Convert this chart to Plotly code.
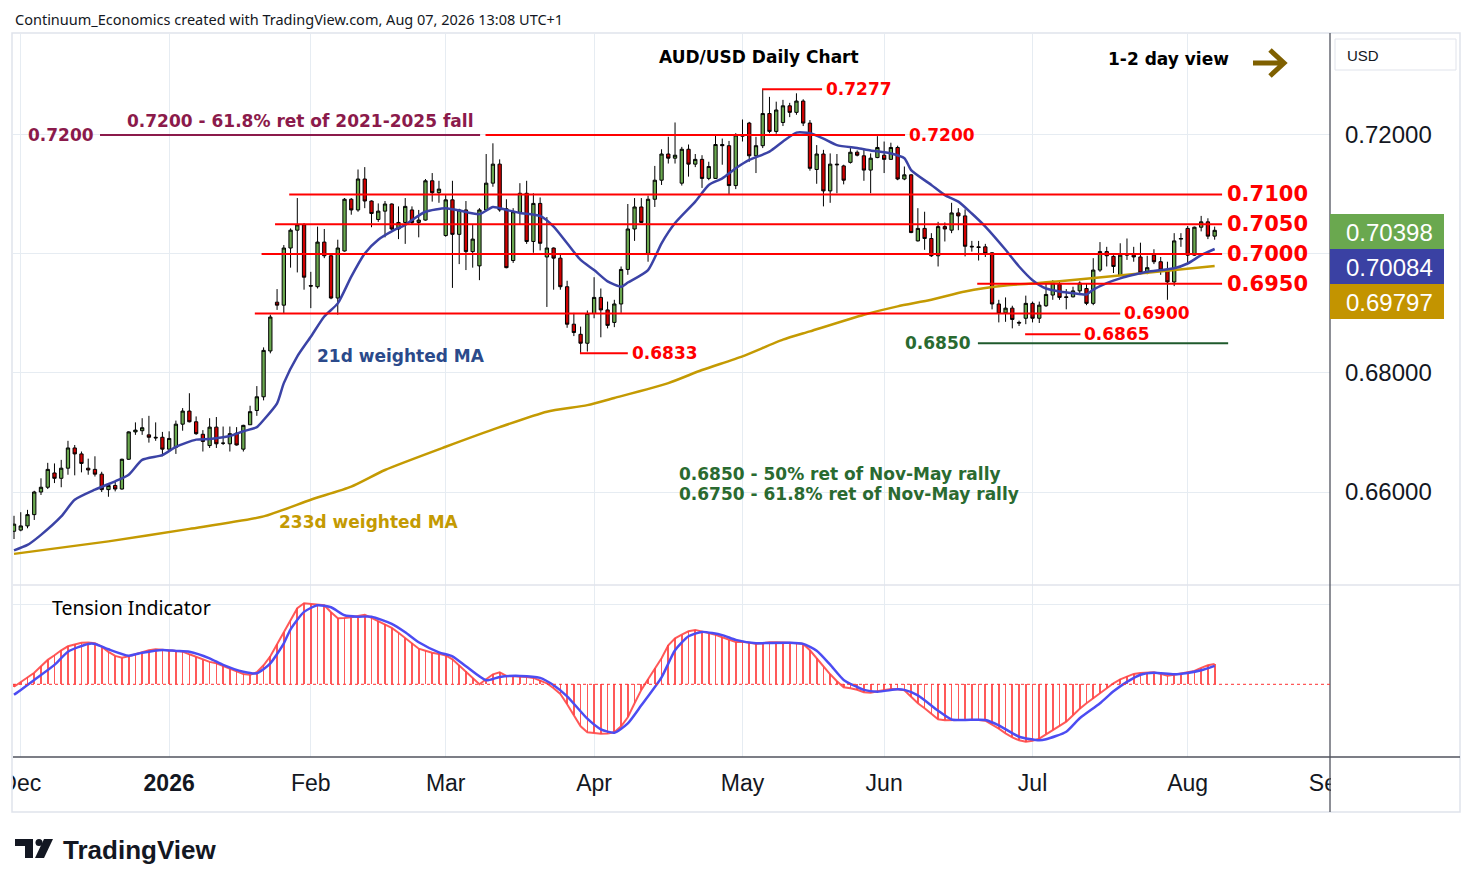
import numpy as np
import pandas as pd
import plotly.graph_objects as go
from plotly.subplots import make_subplots

# daily bars, no bars on 25 Dec and 1 Jan
dates = pd.bdate_range("2025-11-28", "2026-08-07")
dates = dates[~dates.isin(pd.to_datetime(["2025-12-25", "2026-01-01"]))]

open_ = [
    0.6534, 0.6536, 0.6543, 0.6562, 0.6600, 0.6608, 0.6632, 0.6623, 0.6640, 0.6674,
    0.6664, 0.6640, 0.6638, 0.6630, 0.6604, 0.6611, 0.6605, 0.6655, 0.6701, 0.6703,
    0.6696, 0.6692, 0.6692, 0.6672, 0.6675, 0.6714, 0.6736, 0.6718, 0.6697, 0.6678,
    0.6709, 0.6682, 0.6681, 0.6699, 0.6672, 0.6713, 0.6737, 0.6760, 0.6837, 0.6919,
    0.6914, 0.7010, 0.7040, 0.7049, 0.6947, 0.6945, 0.7020, 0.6997, 0.6926, 0.7005,
    0.7092, 0.7074, 0.7126, 0.7089, 0.7058, 0.7072, 0.7084, 0.7042, 0.7053, 0.7074,
    0.7053, 0.7057, 0.7123, 0.7103, 0.7031, 0.7091, 0.7033, 0.7074, 0.7004, 0.6980,
    0.7074, 0.7119, 0.7151, 0.7076, 0.6989, 0.7070, 0.7102, 0.7021, 0.7085, 0.6995,
    0.7010, 0.6993, 0.6945, 0.6882, 0.6865, 0.6850, 0.6900, 0.6927, 0.6906, 0.6885,
    0.6916, 0.6974, 0.7042, 0.7079, 0.7001, 0.7092, 0.7124, 0.7168, 0.7161, 0.7119,
    0.7176, 0.7151, 0.7159, 0.7127, 0.7127, 0.7184, 0.7182, 0.7115, 0.7198, 0.7220,
    0.7165, 0.7182, 0.7236, 0.7206, 0.7221, 0.7249, 0.7238, 0.7257, 0.7220, 0.7142,
    0.7168, 0.7106, 0.7151, 0.7148, 0.7154, 0.7171, 0.7165, 0.7141, 0.7162, 0.7166,
    0.7159, 0.7179, 0.7126, 0.7133, 0.7022, 0.7043, 0.7026, 0.6997, 0.7046, 0.7040,
    0.7069, 0.7064, 0.7013, 0.7012, 0.7012, 0.7002, 0.6916, 0.6901, 0.6909, 0.6885,
    0.6892, 0.6917, 0.6892, 0.6913, 0.6931, 0.6949, 0.6928, 0.6928, 0.6938, 0.6942,
    0.6917, 0.6973, 0.7004, 0.6996, 0.6964, 0.6998, 0.6998, 0.6995, 0.6968, 0.6998,
    0.6987, 0.6973, 0.6953, 0.7025, 0.7043, 0.6998, 0.7045, 0.7054, 0.7030,
]
high = [
    0.6560, 0.6566, 0.6570, 0.6602, 0.6623, 0.6649, 0.6648, 0.6654, 0.6686, 0.6679,
    0.6668, 0.6656, 0.6660, 0.6634, 0.6615, 0.6618, 0.6656, 0.6702, 0.6717, 0.6724,
    0.6728, 0.6717, 0.6701, 0.6702, 0.6720, 0.6741, 0.6766, 0.6727, 0.6704, 0.6724,
    0.6726, 0.6710, 0.6710, 0.6709, 0.6713, 0.6745, 0.6778, 0.6843, 0.6898, 0.6941,
    0.7015, 0.7043, 0.7094, 0.7052, 0.6970, 0.7046, 0.7042, 0.7001, 0.7024, 0.7094,
    0.7094, 0.7142, 0.7146, 0.7090, 0.7085, 0.7089, 0.7085, 0.7080, 0.7094, 0.7080,
    0.7074, 0.7126, 0.7136, 0.7123, 0.7099, 0.7123, 0.7076, 0.7089, 0.7049, 0.7077,
    0.7168, 0.7186, 0.7159, 0.7092, 0.7077, 0.7119, 0.7123, 0.7102, 0.7095, 0.7062,
    0.7011, 0.7001, 0.6955, 0.6901, 0.6878, 0.6905, 0.6961, 0.6942, 0.6920, 0.6923,
    0.6979, 0.7084, 0.7094, 0.7094, 0.7098, 0.7148, 0.7176, 0.7197, 0.7221, 0.7180,
    0.7184, 0.7168, 0.7166, 0.7155, 0.7200, 0.7194, 0.7190, 0.7203, 0.7226, 0.7222,
    0.7197, 0.7277, 0.7264, 0.7256, 0.7259, 0.7254, 0.7270, 0.7260, 0.7225, 0.7183,
    0.7175, 0.7169, 0.7168, 0.7150, 0.7178, 0.7174, 0.7175, 0.7169, 0.7198, 0.7189,
    0.7187, 0.7182, 0.7147, 0.7134, 0.7077, 0.7071, 0.7035, 0.7054, 0.7053, 0.7086,
    0.7077, 0.7075, 0.7022, 0.7022, 0.7017, 0.7003, 0.6923, 0.6927, 0.6913, 0.6888,
    0.6930, 0.6920, 0.6920, 0.6951, 0.6956, 0.6956, 0.6941, 0.6945, 0.6954, 0.6951,
    0.6993, 0.7020, 0.7012, 0.6998, 0.7018, 0.7026, 0.7012, 0.7019, 0.6997, 0.7008,
    0.6995, 0.6987, 0.7035, 0.7035, 0.7047, 0.7046, 0.7064, 0.7060, 0.7046,
]
low = [
    0.6521, 0.6534, 0.6539, 0.6553, 0.6595, 0.6605, 0.6615, 0.6608, 0.6629, 0.6628,
    0.6633, 0.6629, 0.6626, 0.6600, 0.6592, 0.6601, 0.6604, 0.6654, 0.6696, 0.6696,
    0.6683, 0.6686, 0.6660, 0.6671, 0.6664, 0.6703, 0.6717, 0.6696, 0.6668, 0.6674,
    0.6674, 0.6679, 0.6668, 0.6678, 0.6668, 0.6713, 0.6728, 0.6754, 0.6833, 0.6906,
    0.6900, 0.6977, 0.6969, 0.6940, 0.6909, 0.6942, 0.6993, 0.6924, 0.6898, 0.7004,
    0.7066, 0.7071, 0.7077, 0.7045, 0.7054, 0.7028, 0.7040, 0.7025, 0.7017, 0.7049,
    0.7028, 0.7056, 0.7088, 0.7086, 0.7029, 0.6943, 0.6983, 0.6973, 0.6977, 0.6956,
    0.7072, 0.7113, 0.7071, 0.6976, 0.6985, 0.7050, 0.7017, 0.7002, 0.7006, 0.6911,
    0.6940, 0.6940, 0.6876, 0.6862, 0.6833, 0.6836, 0.6892, 0.6860, 0.6875, 0.6877,
    0.6901, 0.6965, 0.7022, 0.7052, 0.6987, 0.7079, 0.7116, 0.7152, 0.7152, 0.7115,
    0.7130, 0.7146, 0.7111, 0.7124, 0.7126, 0.7150, 0.7100, 0.7109, 0.7189, 0.7155,
    0.7136, 0.7178, 0.7203, 0.7202, 0.7215, 0.7230, 0.7234, 0.7215, 0.7140, 0.7118,
    0.7080, 0.7086, 0.7102, 0.7117, 0.7152, 0.7164, 0.7123, 0.7102, 0.7161, 0.7136,
    0.7158, 0.7124, 0.7124, 0.7035, 0.7021, 0.7007, 0.6995, 0.6979, 0.7021, 0.7035,
    0.7040, 0.6996, 0.7004, 0.6989, 0.6995, 0.6907, 0.6885, 0.6886, 0.6875, 0.6879,
    0.6882, 0.6885, 0.6884, 0.6911, 0.6923, 0.6923, 0.6907, 0.6927, 0.6931, 0.6914,
    0.6914, 0.6970, 0.6979, 0.6968, 0.6963, 0.6990, 0.6987, 0.6966, 0.6966, 0.6983,
    0.6965, 0.6923, 0.6946, 0.7012, 0.6984, 0.6997, 0.7038, 0.7025, 0.7024,
]
close = [
    0.6546, 0.6543, 0.6562, 0.6600, 0.6608, 0.6638, 0.6623, 0.6640, 0.6674, 0.6664,
    0.6648, 0.6637, 0.6630, 0.6604, 0.6611, 0.6605, 0.6655, 0.6701, 0.6704, 0.6708,
    0.6692, 0.6691, 0.6672, 0.6690, 0.6714, 0.6736, 0.6718, 0.6698, 0.6685, 0.6709,
    0.6681, 0.6682, 0.6698, 0.6679, 0.6712, 0.6735, 0.6760, 0.6838, 0.6894, 0.6914,
    0.7010, 0.7040, 0.7049, 0.6961, 0.6946, 0.7020, 0.6997, 0.6926, 0.7010, 0.7092,
    0.7074, 0.7126, 0.7089, 0.7068, 0.7072, 0.7084, 0.7042, 0.7053, 0.7080, 0.7053,
    0.7057, 0.7123, 0.7103, 0.7109, 0.7091, 0.7033, 0.7074, 0.7004, 0.7025, 0.7074,
    0.7119, 0.7151, 0.7074, 0.6977, 0.7071, 0.7102, 0.7021, 0.7085, 0.7018, 0.7010,
    0.6993, 0.6945, 0.6882, 0.6868, 0.6850, 0.6900, 0.6927, 0.6906, 0.6880, 0.6916,
    0.6974, 0.7042, 0.7079, 0.7053, 0.7092, 0.7124, 0.7168, 0.7161, 0.7166, 0.7176,
    0.7151, 0.7159, 0.7127, 0.7147, 0.7184, 0.7182, 0.7115, 0.7200, 0.7199, 0.7165,
    0.7182, 0.7236, 0.7206, 0.7242, 0.7249, 0.7238, 0.7257, 0.7220, 0.7144, 0.7168,
    0.7106, 0.7151, 0.7150, 0.7124, 0.7171, 0.7166, 0.7141, 0.7161, 0.7179, 0.7159,
    0.7179, 0.7126, 0.7133, 0.7036, 0.7043, 0.7026, 0.6997, 0.7046, 0.7042, 0.7069,
    0.7064, 0.7013, 0.7012, 0.7011, 0.7001, 0.6916, 0.6900, 0.6909, 0.6890, 0.6884,
    0.6917, 0.6892, 0.6914, 0.6932, 0.6951, 0.6927, 0.6927, 0.6938, 0.6951, 0.6917,
    0.6973, 0.7004, 0.6997, 0.6979, 0.6998, 0.6999, 0.6995, 0.6968, 0.6977, 0.6987,
    0.6973, 0.6953, 0.7022, 0.7026, 0.6998, 0.7045, 0.7054, 0.7030, 0.70398,
]

# moving averages at some bars (bar number, value)
wma21_bar = [0, 2, 4, 7, 9, 12, 15, 17, 19, 22, 24, 27, 29, 32, 34, 36, 37, 39, 40, 42,
             44, 46, 48, 50, 52, 54, 56, 58, 59, 61, 64, 66, 69, 71, 73, 75, 78, 80, 82, 84,
             86, 88, 90, 91, 94, 96, 98, 101, 103, 105, 107, 109, 112, 114, 116, 118, 120,
             122, 125, 127, 130, 132, 133, 136, 138, 140, 142, 144, 147, 149, 151, 153, 155,
             157, 159, 160, 162, 164, 166, 168, 170, 172, 174, 176, 178]
wma21_val = [0.6502, 0.6511, 0.6528, 0.6559, 0.6587, 0.6604, 0.6618, 0.6629, 0.6654, 0.6662,
             0.6676, 0.6688, 0.6689, 0.6694, 0.6702, 0.6709, 0.6721, 0.6749, 0.6783, 0.6828,
             0.6861, 0.6895, 0.6917, 0.6962, 0.7001, 0.7024, 0.7038, 0.7049, 0.7057, 0.7071,
             0.7077, 0.7073, 0.7067, 0.7079, 0.7074, 0.7069, 0.7064, 0.7046, 0.7018, 0.6990,
             0.6973, 0.6954, 0.6945, 0.6952, 0.6973, 0.7018, 0.7052, 0.7088, 0.7116, 0.7127,
             0.7144, 0.7158, 0.7172, 0.7189, 0.7204, 0.7203, 0.7194, 0.7183, 0.7178, 0.7174,
             0.7169, 0.7161, 0.7141, 0.7116, 0.7099, 0.7088, 0.7068, 0.7046, 0.7007, 0.6979,
             0.6956, 0.6942, 0.6937, 0.6934, 0.6932, 0.6940, 0.6951, 0.6959, 0.6965, 0.6970,
             0.6973, 0.6976, 0.6984, 0.6998, 0.70084]
wma233_bar = [0, 14, 26, 37, 44, 50, 55, 64, 72, 79, 85, 89, 97, 102, 108, 114, 118, 126,
              131, 136, 141, 147, 155, 165, 178]
wma233_val = [0.6496, 0.6517, 0.6538, 0.6559, 0.6587, 0.6609, 0.6637, 0.6676, 0.6709, 0.6735,
              0.6746, 0.6758, 0.6783, 0.6805, 0.6828, 0.6856, 0.6870, 0.6898, 0.6912, 0.6923,
              0.6937, 0.6947, 0.6954, 0.6965, 0.69797]

# tension indicator: fast line (one value per bar) and slow line (sampled)
tension = [
    -0.12, 0.10, 0.35, 0.58, 0.90, 1.22, 1.45, 1.70, 1.90, 2.00,
    2.08, 2.09, 2.05, 1.88, 1.62, 1.42, 1.33, 1.40, 1.50, 1.60,
    1.70, 1.75, 1.72, 1.67, 1.66, 1.64, 1.50, 1.36, 1.22, 1.12,
    1.05, 0.92, 0.78, 0.66, 0.52, 0.48, 0.60, 0.95, 1.40, 2.00,
    2.60, 3.20, 3.80, 4.05, 4.02, 4.00, 3.95, 3.60, 3.30, 3.32,
    3.35, 3.42, 3.47, 3.32, 3.15, 3.00, 2.82, 2.58, 2.32, 2.05,
    1.78, 1.68, 1.58, 1.52, 1.44, 1.25, 0.95, 0.65, 0.30, 0.00,
    0.25, 0.50, 0.60, 0.42, 0.40, 0.39, 0.36, 0.32, 0.20, 0.05,
    -0.20, -0.48, -1.00, -1.55, -2.10, -2.40, -2.44, -2.47, -2.46, -2.40,
    -2.10, -1.65, -0.95, -0.28, 0.25, 0.80, 1.30, 1.95, 2.30, 2.48,
    2.65, 2.72, 2.65, 2.56, 2.48, 2.35, 2.22, 2.12, 2.13, 2.08,
    2.03, 2.05, 2.10, 2.10, 2.10, 2.08, 2.05, 2.02, 1.70, 1.30,
    0.88, 0.50, 0.15, -0.15, -0.20, -0.27, -0.40, -0.42, -0.35, -0.28,
    -0.24, -0.25, -0.30, -0.62, -0.95, -1.20, -1.50, -1.75, -1.80, -1.78,
    -1.78, -1.78, -1.78, -1.79, -1.82, -2.00, -2.22, -2.45, -2.65, -2.80,
    -2.87, -2.82, -2.72, -2.50, -2.28, -2.08, -1.87, -1.55, -1.22, -0.95,
    -0.72, -0.45, -0.20, 0.05, 0.25, 0.40, 0.52, 0.57, 0.59, 0.60,
    0.52, 0.43, 0.48, 0.55, 0.60, 0.67, 0.82, 0.95, 1.02,
]
signal_bar = [0, 1, 3, 6, 8, 11, 12, 14, 17, 19, 22, 24, 26, 29, 31, 34, 36, 38, 40, 41,
              43, 45, 47, 49, 51, 53, 56, 58, 60, 63, 65, 67, 70, 72, 75, 78, 80, 82, 85, 87,
              89, 91, 93, 96, 98, 100, 102, 105, 107, 110, 112, 115, 117, 119, 121, 123, 126,
              128, 131, 132, 134, 137, 139, 141, 144, 146, 149, 152, 153, 156, 158, 161, 163,
              165, 167, 169, 172, 174, 176, 178]
signal_val = [-0.52, -0.28, 0.22, 0.97, 1.63, 2.02, 2.02, 1.75, 1.43, 1.58, 1.72, 1.67, 1.63,
              1.30, 0.97, 0.63, 0.55, 1.05, 2.05, 2.75, 3.62, 3.95, 3.85, 3.45, 3.38, 3.38,
              3.02, 2.60, 2.10, 1.60, 1.40, 0.90, 0.20, 0.37, 0.42, 0.32, -0.05, -0.60, -1.72,
              -2.25, -2.42, -1.95, -1.05, 0.35, 1.70, 2.40, 2.62, 2.46, 2.22, 2.05, 2.07, 2.08,
              2.02, 1.68, 0.98, 0.22, -0.28, -0.37, -0.25, -0.28, -0.55, -1.32, -1.76, -1.78,
              -1.78, -2.05, -2.62, -2.80, -2.75, -2.37, -1.70, -0.95, -0.35, 0.12, 0.48, 0.58,
              0.50, 0.57, 0.70, 0.92]

# drawn levels: price, first bar, last bar
level_price = [0.7277, 0.7200, 0.7100, 0.7050, 0.7000, 0.6950, 0.6900, 0.6865, 0.6833]
level_from = [110.9, 69.9, 40.8, 38.7, 36.7, 142.8, 35.7, 149.9, 83.9]
level_to = [119.8, 132.1, 179.1, 179.1, 179.1, 179.1, 164.0, 158.1, 91.0]
big_levels = [0.7100, 0.7050, 0.7000, 0.6950]
fib_price, fib_from, fib_to = 0.7200, 12.75, 69.1
ret_price, ret_from, ret_to = 0.6850, 142.9, 180.0

GRID = "#e6ecf2"
RED = "#ff0000"
AXIS = "#50535e"
BOLD = "DejaVu Sans"

xi = np.arange(len(dates))
n = len(dates)

# month ticks: first bar of each month, Sep is after the last bar
pos = pd.Series(xi, index=dates)
firsts = pos.groupby([dates.year, dates.month]).first()
tick_pos, tick_txt = [], []
for (yr, mo), p in firsts.items():
    if yr == 2025 and mo == 11:
        continue
    tick_pos.append(int(p))
    tick_txt.append("<b>2026</b>" if mo == 1 else pd.Timestamp(yr, mo, 1).strftime("%b"))
ahead = pd.bdate_range(dates[-1] + pd.Timedelta(days=1), "2026-09-01")
tick_pos.append(n - 1 + len(ahead))
tick_txt.append("Sep")

# pixel -> paper helpers for page furniture
L, R, T, B = 13, 1330, 34, 757
def pxx(x):
    return (x - L) / (R - L)
def pxy(y):
    return (B - y) / (B - T)

fig = make_subplots(rows=2, cols=1, shared_xaxes=True, vertical_spacing=0,
                    row_heights=[551 / 723, 172 / 723])

fig.add_trace(go.Candlestick(
    x=xi, open=open_, high=high, low=low, close=close,
    increasing=dict(fillcolor="#6aa84f", line=dict(color="#000000", width=1)),
    decreasing=dict(fillcolor="#d00000", line=dict(color="#000000", width=1)),
    whiskerwidth=0, hoverinfo="skip"), row=1, col=1)
fig.add_trace(go.Scatter(x=wma233_bar, y=wma233_val, mode="lines",
                         line=dict(color="#c49a02", width=2.5, shape="spline", smoothing=0.6),
                         hoverinfo="skip"), row=1, col=1)
fig.add_trace(go.Scatter(x=wma21_bar, y=wma21_val, mode="lines",
                         line=dict(color="#3b43a6", width=2.5, shape="spline", smoothing=0.6),
                         hoverinfo="skip"), row=1, col=1)

fig.add_trace(go.Bar(x=xi, y=tension, width=0.25,
                     marker=dict(color="rgba(255,60,60,0.85)", line=dict(width=0)),
                     hoverinfo="skip"), row=2, col=1)
fig.add_trace(go.Scatter(x=xi, y=tension, mode="lines",
                         line=dict(color="rgba(255,70,70,0.9)", width=2),
                         hoverinfo="skip"), row=2, col=1)
fig.add_trace(go.Scatter(x=signal_bar, y=signal_val, mode="lines",
                         line=dict(color="#4c4cf2", width=2.5, shape="spline", smoothing=0.6),
                         hoverinfo="skip"), row=2, col=1)

shapes = []
annots = []

# covers for clipped month labels, then frame lines
shapes.append(dict(type="rect", xref="paper", yref="paper", x0=pxx(1331), x1=pxx(1459),
                   y0=pxy(811), y1=pxy(758), fillcolor="white", line=dict(width=0)))
shapes.append(dict(type="rect", xref="paper", yref="paper", x0=pxx(0), x1=pxx(12.5),
                   y0=pxy(811), y1=pxy(758), fillcolor="white", line=dict(width=0)))
shapes.append(dict(type="rect", xref="paper", yref="paper", x0=pxx(12), x1=pxx(1460),
                   y0=pxy(812), y1=pxy(33), line=dict(color="#e0e3eb", width=1.5)))
shapes.append(dict(type="line", xref="paper", yref="paper", x0=0, x1=pxx(1460),
                   y0=pxy(585), y1=pxy(585), line=dict(color="#e0e3eb", width=1.5)))
shapes.append(dict(type="line", xref="paper", yref="paper", x0=0, x1=pxx(1460),
                   y0=0, y1=0, line=dict(color=AXIS, width=1.3)))
shapes.append(dict(type="line", xref="paper", yref="paper", x0=1, x1=1,
                   y0=pxy(812), y1=pxy(33), line=dict(color=AXIS, width=1.3)))

# tension zero line
shapes.append(dict(type="line", xref="x2", yref="y2", x0=-0.15, x1=195.1, y0=0, y1=0,
                   line=dict(color="#ff3030", width=1, dash="dot")))

# analyst levels
for p, a, b in zip(level_price, level_from, level_to):
    shapes.append(dict(type="line", xref="x", yref="y", x0=a, x1=b, y0=p, y1=p,
                       line=dict(color=RED, width=2)))
    big = p in big_levels
    annots.append(dict(x=b, y=p, xref="x", yref="y", text=f"<b>{p:.4f}</b>",
                       showarrow=False, xanchor="left", yanchor="middle",
                       xshift=3 if big else 2,
                       font=dict(family=BOLD, size=21 if big else 17, color=RED)))
shapes.append(dict(type="line", xref="x", yref="y", x0=fib_from, x1=fib_to,
                   y0=fib_price, y1=fib_price, line=dict(color="#8b1a4b", width=2)))
annots.append(dict(x=fib_from, y=fib_price, xref="x", yref="y", text=f"<b>{fib_price:.4f}</b>",
                   showarrow=False, xanchor="right", yanchor="middle", xshift=-4,
                   font=dict(family=BOLD, size=17, color="#8b1a4b")))
shapes.append(dict(type="line", xref="x", yref="y", x0=ret_from, x1=ret_to,
                   y0=ret_price, y1=ret_price, line=dict(color="#1f5a2c", width=2)))
annots.append(dict(x=ret_from, y=ret_price, xref="x", yref="y", text=f"<b>{ret_price:.4f}</b>",
                   showarrow=False, xanchor="right", yanchor="middle", xshift=-5,
                   font=dict(family=BOLD, size=17, color="#2a6a30")))

def text(t, x, y, size=17, color="#000000", family=BOLD, anchor="left"):
    annots.append(dict(x=pxx(x), y=pxy(y), xref="paper", yref="paper", text=t,
                       showarrow=False, xanchor=anchor, yanchor="middle",
                       font=dict(family=family, size=size, color=color)))

text("Continuum_Economics created with TradingView.com, Aug 07, 2026 13:08 UTC+1",
     13, 19, size=14.5, color="#131722", family="Noto Sans")
text("<b>AUD/USD Daily Chart</b>", 759, 57, anchor="center")
text("<b>1-2 day view</b>", 1106, 59)
text("<b>0.7200 - 61.8% ret of 2021-2025 fall</b>", 125, 121, color="#8b1a4b")
text("<b>21d weighted MA</b>", 315, 356, color="#2b4a8b")
text("<b>233d weighted MA</b>", 277, 522, color="#c49a02")
text("<b>0.6850 - 50% ret of Nov-May rally</b>", 677, 474, color="#2a6a30")
text("<b>0.6750 - 61.8% ret of Nov-May rally</b>", 677, 494, color="#2a6a30")
text("Tension Indicator", 50, 607, size=19.5, family="Noto Sans")

# arrow next to the view
shapes.append(dict(type="path", xref="paper", yref="paper",
                   path=f"M {pxx(1253)},{pxy(63)} L {pxx(1283)},{pxy(63)} "
                        f"M {pxx(1270)},{pxy(50)} L {pxx(1284)},{pxy(63)} L {pxx(1270)},{pxy(76)}",
                   line=dict(color="#7f6000", width=5)))

# price scale furniture
shapes.append(dict(type="rect", xref="paper", yref="paper", x0=pxx(1335), x1=pxx(1456),
                   y0=pxy(70), y1=pxy(39), fillcolor="white", line=dict(color="#e0e3eb", width=1)))
text("USD", 1345, 55, size=15, color="#131722", family="Liberation Sans")
boxes = [(close[-1], "#6aa84f", 214, 249), (wma21_val[-1], "#3a41a3", 249, 284),
         (wma233_val[-1], "#c39400", 284, 319)]
for v, col, y0, y1 in boxes:
    shapes.append(dict(type="rect", xref="paper", yref="paper", x0=1, x1=pxx(1444),
                       y0=pxy(y1), y1=pxy(y0), fillcolor=col, line=dict(width=0)))
    text(f"{v:.5f}", 1389, (y0 + y1) / 2 + 1, size=24, color="white",
         family="Liberation Sans", anchor="center")

# TradingView mark
ink = "#131722"
shapes.append(dict(type="rect", xref="paper", yref="paper", x0=pxx(15), x1=pxx(33),
                   y0=pxy(846), y1=pxy(839), fillcolor=ink, line=dict(width=0)))
shapes.append(dict(type="rect", xref="paper", yref="paper", x0=pxx(25), x1=pxx(33),
                   y0=pxy(858), y1=pxy(839), fillcolor=ink, line=dict(width=0)))
shapes.append(dict(type="circle", xref="paper", yref="paper", x0=pxx(35.5), x1=pxx(42.5),
                   y0=pxy(846), y1=pxy(839), fillcolor=ink, line=dict(width=0)))
shapes.append(dict(type="path", xref="paper", yref="paper",
                   path=f"M {pxx(44)},{pxy(839)} L {pxx(53)},{pxy(839)} L {pxx(44)},{pxy(858)} "
                        f"L {pxx(35)},{pxy(858)} Z", fillcolor=ink, line=dict(width=0)))
text("<b>TradingView</b>", 61, 850, size=26, color=ink, family="Liberation Sans")

fig.update_layout(
    width=1474, height=887,
    margin=dict(l=L, r=1474 - R, t=T, b=887 - B, autoexpand=False),
    paper_bgcolor="white", plot_bgcolor="white",
    showlegend=False, bargap=0,
    font=dict(family="Liberation Sans", color="#131722"),
    shapes=shapes, annotations=annots,
)
fig.update_xaxes(range=[-0.15, 195.1], tickvals=tick_pos, showgrid=True, gridcolor=GRID,
                 gridwidth=1, zeroline=False, showline=False, ticks="", fixedrange=True,
                 automargin=False)
fig.update_xaxes(showticklabels=False, rangeslider_visible=False, row=1, col=1)
fig.update_xaxes(ticktext=tick_txt, showticklabels=True, ticklabelstandoff=10,
                 tickfont=dict(size=23, color="#131722", family="Liberation Sans"),
                 row=2, col=1)
fig.update_yaxes(side="right", range=[0.64437, 0.73697],
                 tickvals=[0.66, 0.68, 0.70, 0.72],
                 ticktext=["0.66000", "0.68000", "", "0.72000"],
                 tickfont=dict(size=24, color="#131722", family="Liberation Sans"),
                 ticklabelstandoff=14, ticks="", showgrid=True, gridcolor=GRID,
                 zeroline=False, showline=False, fixedrange=True, automargin=False,
                 row=1, col=1)
fig.update_yaxes(side="right", range=[-3.635, 4.965], tickvals=[4], showticklabels=False,
                 ticks="", showgrid=True, gridcolor=GRID, zeroline=False, showline=False,
                 fixedrange=True, automargin=False, row=2, col=1)

fig.write_html("out.html", config={"displayModeBar": False},
               post_script="document.body.style.margin='0';document.body.style.overflow='hidden';")
